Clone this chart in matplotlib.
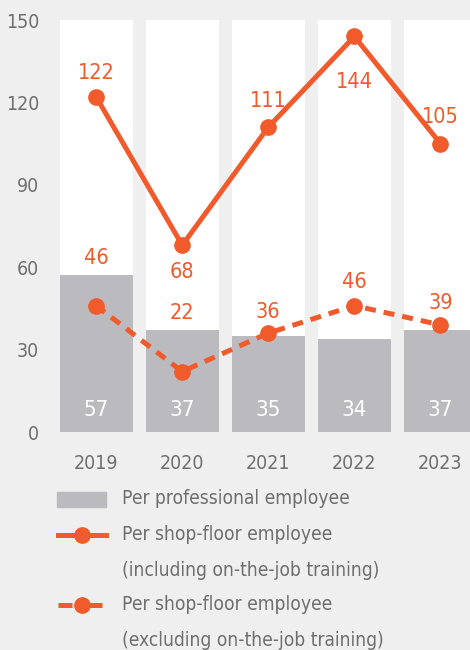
import matplotlib
matplotlib.use("Agg")
import matplotlib.pyplot as plt
from matplotlib.patches import Rectangle
from matplotlib.lines import Line2D

plt.rcParams['font.family'] = ['DejaVu Sans']
plt.rcParams['font.stretch'] = 'condensed'

years = ['2019', '2020', '2021', '2022', '2023']
professional = [57, 37, 35, 34, 37]
shop_incl = [122, 68, 111, 144, 105]
shop_excl = [46, 22, 36, 46, 39]
y_ticks = [0, 30, 60, 90, 120, 150]

legend_lines = [['Per professional employee'],
                ['Per shop-floor employee', '(including on-the-job training)'],
                ['Per shop-floor employee', '(excluding on-the-job training)']]

# label offsets in points (positive = above the marker)
incl_off = [17, -19, 19, -33, 19]
excl_off = [34, 42, 15, 17, 16]

BG = '#efefef'
ORANGE = '#f15a2b'
BARGRAY = '#bbbbbf'
TXT = '#6e6e6e'

fig = plt.figure(figsize=(4.7, 6.5), dpi=100, facecolor=BG)
ax = fig.add_axes([60 / 470, 1 - 432 / 650, 410 / 470, 412 / 650])
ax.set_facecolor(BG)

x = list(range(len(years)))
w = 0.85
ax.bar(x, [150] * len(x), width=w, color='white', zorder=1)
ax.bar(x, professional, width=w, color=BARGRAY, zorder=2)

ax.plot(x, shop_incl, color=ORANGE, lw=3.6, marker='o', ms=11, zorder=4)
ax.plot(x, shop_excl, color=ORANGE, lw=3.6, marker='o', ms=11, zorder=4,
        dashes=(2.2, 1.6))

for i, v in enumerate(professional):
    ax.text(i, 8, str(v), ha='center', va='center', color='white', fontsize=16, zorder=5)
for i, v in enumerate(shop_incl):
    ax.annotate(str(v), (i, v), xytext=(0, incl_off[i]), textcoords='offset points',
                ha='center', va='center', color=ORANGE, fontsize=15.5, zorder=5)
for i, v in enumerate(shop_excl):
    ax.annotate(str(v), (i, v), xytext=(0, excl_off[i]), textcoords='offset points',
                ha='center', va='center', color=ORANGE, fontsize=15.5, zorder=5)

ax.set_xlim(-0.42, 4.343)
ax.set_ylim(0, 150)
ax.set_yticks(y_ticks)
ax.set_xticks(x)
ax.set_xticklabels(years)
ax.tick_params(axis='both', length=0, colors=TXT, labelsize=14)
ax.tick_params(axis='y', pad=15)
ax.tick_params(axis='x', pad=16)
for s in ax.spines.values():
    s.set_visible(False)

# legend drawn by hand in pixel coordinates
lg = fig.add_axes([0, 0, 1, 1 - 470 / 650])
lg.set_xlim(0, 470)
lg.set_ylim(650, 470)
lg.axis('off')
lg.add_patch(Rectangle((57, 492), 49, 15, color=BARGRAY))
lg.add_line(Line2D([58, 82, 106], [535, 535, 535], color=ORANGE, lw=3.6,
                   marker='o', markevery=[1], ms=11))
lg.add_line(Line2D([58, 82, 106], [605, 605, 605], color=ORANGE, lw=3.6,
                   dashes=(2.8, 3.2), marker='o', markevery=[1], ms=11))
row = 499
for entry in legend_lines:
    for line in entry:
        lg.text(122, row, line, va='center', color=TXT, fontsize=13.8)
        row += 35
    if row == 534:
        row = 535

fig.savefig('out.png', dpi=100, facecolor=BG)
